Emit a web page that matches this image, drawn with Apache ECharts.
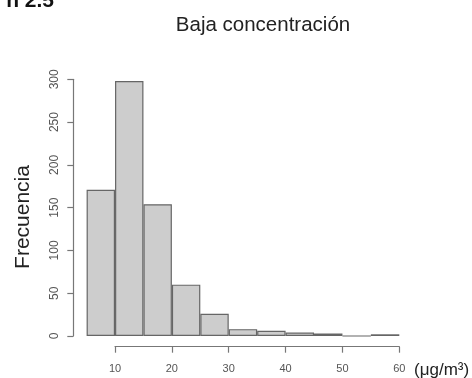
<!DOCTYPE html>
<html><head><meta charset="utf-8">
<script src="https://cdn.jsdelivr.net/npm/echarts@6/dist/echarts.min.js"></script>
<style>html,body{margin:0;padding:0;background:#fff}#c{width:472px;height:378px}</style>
</head><body><div id="c"></div>
<script>
// Histogram bins (µg/m³) and frequencies
const binLabels = ['5-10','10-15','15-20','20-25','25-30','30-35','35-40','40-45','45-50','50-55','55-60'];
const counts = [171, 298, 154, 60, 26, 8, 6, 4, 3, 0, 2];
const xTickMin = 10, xTickMax = 60, xTickStep = 10;
const yTickMin = 0, yTickMax = 300, yTickStep = 50;
const titleText = 'Baja concentración';
const yName = 'Frecuencia';
const xUnit = '(μg/m³)';

const chart = echarts.init(document.getElementById('c'), null, {renderer: 'canvas'});
chart.setOption({
  backgroundColor: '#ffffff',
  animation: false,
  title: {
    text: titleText, left: 258, top: 10, textAlign: 'center',
    textStyle: {fontFamily: 'Liberation Sans, Arial', fontSize: 20.5, fontWeight: 'normal', color: '#222'}
  },
  graphic: [
    {type: 'text', left: 'auto', right: 418, top: -9,
     style: {text: 'n 2.5', font: 'bold 21px "Liberation Sans", Arial', fill: '#111'}},
    {type: 'text', rotation: Math.PI / 2, x: 23, y: 217,
     style: {text: yName, font: '21px "Liberation Sans", Arial', fill: '#222', textAlign: 'center', textVerticalAlign: 'middle'}},
    {type: 'text', x: 414, y: 370,
     style: {text: xUnit, font: '17px "Liberation Sans", Arial', fill: '#222', textAlign: 'left', textVerticalAlign: 'middle'}}
  ],
  grid: [
    {left: 86.6, right: 72.7, top: 79.3, bottom: 42},
    {left: 115, right: 72.7, top: 100, bottom: 31.3}
  ],
  xAxis: [
    {type: 'category', gridIndex: 0, data: binLabels, boundaryGap: true,
     axisLine: {show: false}, axisTick: {show: false}, axisLabel: {show: false}},
    {type: 'value', gridIndex: 1, min: xTickMin, max: xTickMax, interval: xTickStep,
     axisLine: {show: true, lineStyle: {color: '#777', width: 1.2}},
     axisTick: {show: true, length: 6, lineStyle: {color: '#777', width: 1.2}},
     axisLabel: {fontFamily: 'Liberation Sans, Arial', fontSize: 11, color: '#555', margin: 17},
     splitLine: {show: false}}
  ],
  yAxis: [
    {type: 'value', gridIndex: 0, min: yTickMin, max: yTickMax, interval: yTickStep, offset: 13.3,
     axisLine: {show: true, lineStyle: {color: '#777', width: 1.2}},
     axisTick: {show: true, length: 6, lineStyle: {color: '#777', width: 1.2}},
     axisLabel: {rotate: 90, fontFamily: 'Liberation Sans, Arial', fontSize: 12, color: '#555', margin: 13},
     splitLine: {show: false}},
    {type: 'value', gridIndex: 1, show: false}
  ],
  series: [{
    type: 'bar', xAxisIndex: 0, yAxisIndex: 0, data: counts,
    barCategoryGap: '0%',
    itemStyle: {color: '#cdcdcd', borderColor: '#666', borderWidth: 1.2}
  }]
});
</script></body></html>
